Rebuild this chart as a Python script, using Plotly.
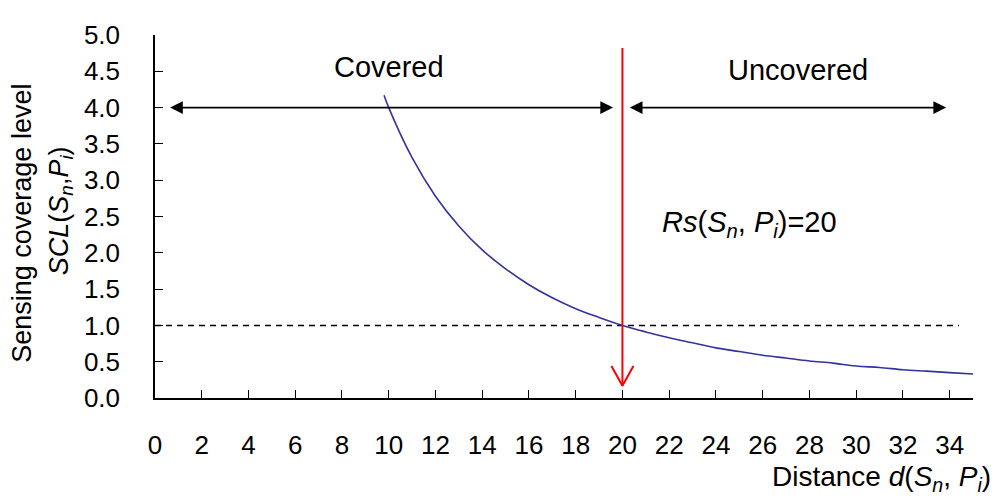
import plotly.graph_objects as go

# ---- data ----
distance = [9.8, 10, 11, 12, 13, 14, 15, 16, 17, 18, 19, 20, 21, 22, 23, 24, 25,
            26, 27, 28, 29, 30, 31, 32, 33, 34, 35]
scl = [4.17, 4.00, 3.31, 2.78, 2.37, 2.04, 1.78, 1.56, 1.38, 1.23, 1.11, 1.00,
       0.91, 0.83, 0.76, 0.69, 0.64, 0.59, 0.55, 0.51, 0.48, 0.44, 0.42, 0.39,
       0.37, 0.35, 0.33]

x_ticks = list(range(0, 35, 2))
y_ticks = [0.0, 0.5, 1.0, 1.5, 2.0, 2.5, 3.0, 3.5, 4.0, 4.5, 5.0]

RS = 20                 # sensing radius (threshold distance)
THRESHOLD = 1.0         # coverage level threshold
dash_x = [0, 34.4]
covered_span = [0.58, 19.6]
uncovered_span = [20.25, 33.85]
span_level = 4.0
red_top, red_tip = 4.82, 0.17
head_w, head_h = 0.47, 0.27

FONT = "Liberation Sans, Arial, sans-serif"

# page body has an 8px margin; compensate so the plot lands where the reference has it
W, H = 992, 495
ML, MR, MT, MB = 147, 27, 15, 105
PW, PH = W - ML - MR, H - MT - MB
OFF = 8


def px_to_paper_x(px):
    return (px - OFF - ML) / PW


def px_to_paper_y(py):
    return 1 - (py - OFF - MT) / PH


fig = go.Figure()

# dashed threshold line
fig.add_trace(go.Scatter(x=dash_x, y=[THRESHOLD, THRESHOLD], mode="lines",
                         line=dict(color="black", width=1.5, dash="6px,5px"),
                         hoverinfo="skip", showlegend=False))

# SCL curve
fig.add_trace(go.Scatter(x=distance, y=scl, mode="lines",
                         line=dict(color="#33339e", width=1.6, shape="spline"),
                         showlegend=False))

# red vertical arrow with open head
fig.add_trace(go.Scatter(
    x=[RS, RS, None, RS - head_w, RS, RS + head_w],
    y=[red_top, red_tip, None, red_tip + head_h, red_tip, red_tip + head_h],
    mode="lines", line=dict(color="#ff0000", width=2),
    hoverinfo="skip", showlegend=False))

annotations = []
# double-headed black arrows
for a, b in (covered_span, uncovered_span):
    annotations.append(dict(x=b, y=span_level, ax=a, ay=span_level,
                            xref="x", yref="y", axref="x", ayref="y",
                            text="", showarrow=True, arrowside="end+start",
                            arrowhead=2, arrowsize=1.5, arrowwidth=1.7,
                            arrowcolor="black"))

annotations.append(dict(x=10.0, y=4.56, xref="x", yref="y", text="Covered",
                        showarrow=False, font=dict(size=29, color="black", family=FONT)))
annotations.append(dict(x=27.5, y=4.52, xref="x", yref="y", text="Uncovered",
                        showarrow=False, font=dict(size=29, color="black", family=FONT)))
annotations.append(dict(x=21.6, y=2.4, xref="x", yref="y", xanchor="left",
                        text="<i>Rs</i>(<i>S<sub>n</sub></i>, <i>P<sub>i</sub></i>)=20",
                        showarrow=False, font=dict(size=29, color="black", family=FONT)))

# axis titles as annotations
annotations.append(dict(x=px_to_paper_x(993), y=px_to_paper_y(481), xref="paper", yref="paper",
                        xanchor="right", yanchor="middle",
                        text="Distance <i>d</i>(<i>S<sub>n</sub></i>, <i>P<sub>i</sub></i>)",
                        showarrow=False, font=dict(size=28, color="black", family=FONT)))
annotations.append(dict(x=px_to_paper_x(22), y=px_to_paper_y(218), xref="paper", yref="paper",
                        xanchor="center", yanchor="middle", textangle=-90,
                        text="Sensing coverage level",
                        showarrow=False, font=dict(size=27, color="black", family=FONT)))
annotations.append(dict(x=px_to_paper_x(61), y=px_to_paper_y(205), xref="paper", yref="paper",
                        xanchor="center", yanchor="middle", textangle=-90,
                        text="<i>SCL</i>(<i>S<sub>n</sub></i>,<i>P<sub>i</sub></i>)",
                        showarrow=False, font=dict(size=27, color="black", family=FONT)))

fig.update_layout(
    width=W, height=H,
    margin=dict(l=ML, r=MR, t=MT, b=MB),
    paper_bgcolor="white", plot_bgcolor="white",
    font=dict(family=FONT, size=26, color="black"),
    annotations=annotations,
    xaxis=dict(range=[0, 35], tickmode="array", tickvals=x_ticks,
               ticks="inside", ticklen=8, tickwidth=1.3, tickcolor="black",
               showline=True, linecolor="black", linewidth=1.5,
               showgrid=False, zeroline=False, ticklabelstandoff=23,
               tickfont=dict(size=26)),
    yaxis=dict(range=[0, 5], tickmode="array", tickvals=y_ticks, tickformat=".1f",
               ticks="inside", ticklen=8, tickwidth=1.3, tickcolor="black",
               showline=True, linecolor="black", linewidth=1.5,
               showgrid=False, zeroline=False, ticklabelstandoff=28,
               tickfont=dict(size=26)),
)

fig.write_html("out.html")
